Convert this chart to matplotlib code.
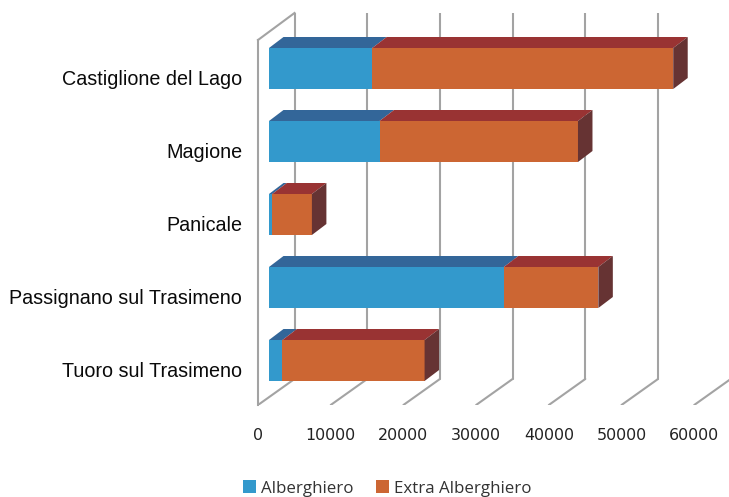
import matplotlib
matplotlib.use("Agg")
import matplotlib.pyplot as plt
from matplotlib.patches import Polygon, Patch

categories = ["Castiglione del Lago", "Magione", "Panicale",
              "Passignano sul Trasimeno", "Tuoro sul Trasimeno"]
alberghiero = [14200, 15200, 450, 32300, 1850]
extra = [41400, 27300, 5450, 13000, 19550]
ticks = [0, 10000, 20000, 30000, 40000, 50000, 60000]
names = ["Alberghiero", "Extra Alberghiero"]

W, H = 729, 497
PX_X = 72.7 / 10000        # pixels per value unit
PX_Y = 73.0                # pixels per category
LEFT, TOP, BOTTOM = 258, 13, 405
CAT0 = 77.5                # pixel row of first category label

def dx(px):
    return px / PX_X

def dy(px):
    return px / PX_Y

fig = plt.figure(figsize=(W / 100, H / 100), dpi=100)
ax = fig.add_axes([LEFT / W, (H - BOTTOM) / H, (W - LEFT) / W, (BOTTOM - TOP) / H])
ax.set_xlim(0, dx(W - LEFT))
ax.set_ylim((BOTTOM - CAT0) / PX_Y, (TOP - CAT0) / PX_Y)
for s in ax.spines.values():
    s.set_visible(False)

GRID = "#a3a3a3"
ytop = ax.get_ylim()[1]
ybot = ax.get_ylim()[0]
wall_x, wall_y = dx(36.5), dy(26)
gkw = dict(color=GRID, lw=1.5, zorder=1, clip_on=True, solid_capstyle="round")
for t in ticks:
    ax.plot([t, t + wall_x], [ybot, ybot - wall_y], **gkw)
    ax.plot([t + wall_x, t + wall_x], [ybot - wall_y, ytop], **gkw)
ax.plot([0, 0], [ybot, ytop + wall_y + dy(1)], color=GRID, lw=1.5, zorder=1, clip_on=False)
ax.plot([0, wall_x], [ytop + wall_y + dy(1), ytop], color=GRID, lw=1.5, zorder=1, clip_on=False)

# bars
x0 = dx(11)
shift_y = dy(9)
h = 41 / PX_Y
depth_x, depth_y = dx(14.5), dy(11)
FRONT = ["#3399CC", "#CC6633"]
TOPC = ["#336699", "#993333"]
SIDE = "#663333"

for i in range(len(categories)):
    yc = i - shift_y
    start = x0
    for vals, j in ((alberghiero, 0), (extra, 1)):
        v = vals[i]
        ax.barh(yc, v, left=start, height=h, color=FRONT[j], zorder=3 + j * 0.1, edgecolor="none")
        yt = yc - h / 2
        ax.add_patch(Polygon([(start, yt), (start + v, yt),
                              (start + v + depth_x, yt - depth_y), (start + depth_x, yt - depth_y)],
                             closed=True, fc=TOPC[j], ec="none", zorder=3 + j * 0.1))
        start += v
    yb = yc + h / 2
    ax.add_patch(Polygon([(start, yt), (start + depth_x, yt - depth_y),
                          (start + depth_x, yb - depth_y), (start, yb)],
                         closed=True, fc=SIDE, ec="none", zorder=3.5))

ax.set_yticks(range(len(categories)))
ax.set_yticklabels(categories, family="Liberation Sans", fontsize=14.2, color="#0a0a0a")
ax.set_xticks(ticks)
ax.set_xticklabels([str(t) for t in ticks], family="DejaVu Sans", fontsize=11.4, color="#222222")
ax.tick_params(axis="y", length=0, pad=11.5)
ax.tick_params(axis="x", length=0, pad=16.5)

handles = [Patch(fc=FRONT[0]), Patch(fc=FRONT[1])]
fig.legend(handles, names, loc="center", bbox_to_anchor=(387 / W, (H - 488.5) / H), ncol=2, frameon=False,
           prop={"family": "Open Sans", "size": 12.2}, handlelength=0.8, handleheight=0.8,
           handletextpad=0.25, columnspacing=1.35, labelcolor="#333333", borderpad=0, borderaxespad=0)

fig.savefig("out.png", dpi=100)
